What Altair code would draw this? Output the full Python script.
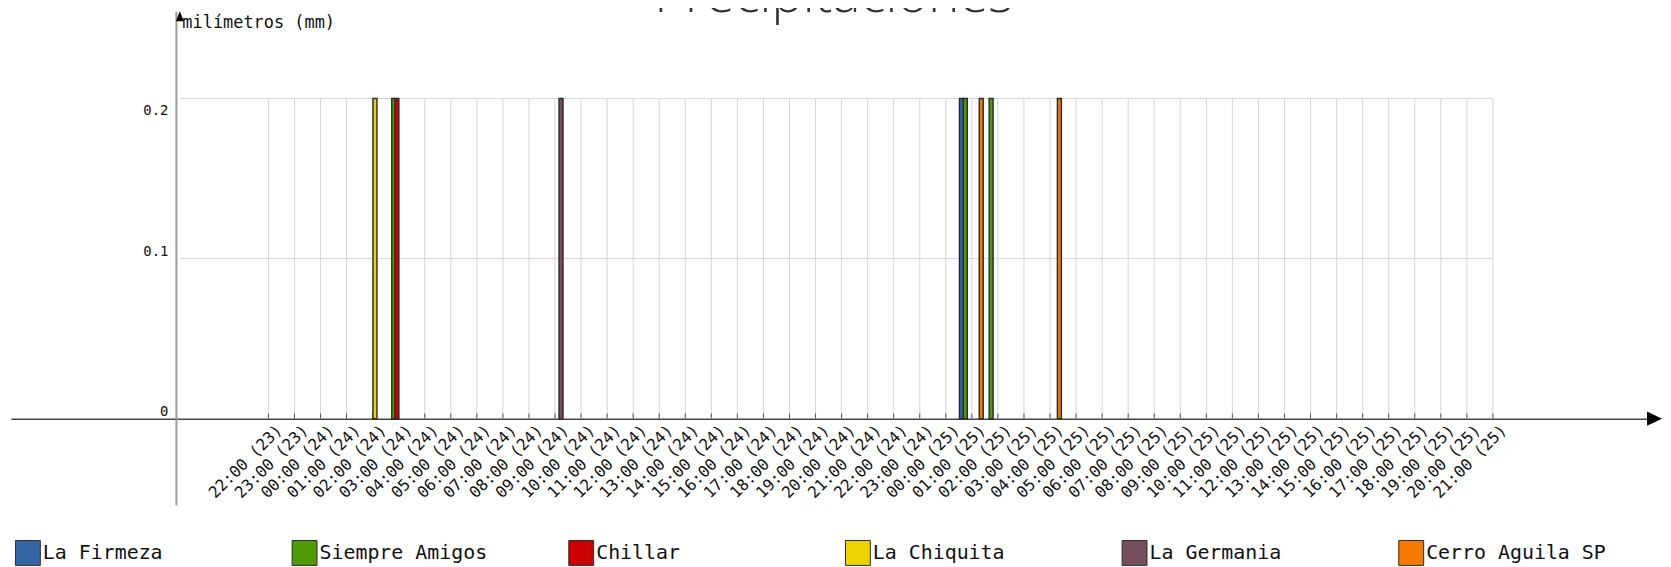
import json
import altair as alt
import pandas as pd

# ---------------- data ----------------
hour_labels = [
    "22:00 (23)", "23:00 (23)",
    "00:00 (24)", "01:00 (24)", "02:00 (24)", "03:00 (24)", "04:00 (24)", "05:00 (24)",
    "06:00 (24)", "07:00 (24)", "08:00 (24)", "09:00 (24)", "10:00 (24)", "11:00 (24)",
    "12:00 (24)", "13:00 (24)", "14:00 (24)", "15:00 (24)", "16:00 (24)", "17:00 (24)",
    "18:00 (24)", "19:00 (24)", "20:00 (24)", "21:00 (24)", "22:00 (24)", "23:00 (24)",
    "00:00 (25)", "01:00 (25)", "02:00 (25)", "03:00 (25)", "04:00 (25)", "05:00 (25)",
    "06:00 (25)", "07:00 (25)", "08:00 (25)", "09:00 (25)", "10:00 (25)", "11:00 (25)",
    "12:00 (25)", "13:00 (25)", "14:00 (25)", "15:00 (25)", "16:00 (25)", "17:00 (25)",
    "18:00 (25)", "19:00 (25)", "20:00 (25)", "21:00 (25)",
]
tick_hours = list(range(len(hour_labels)))  # hours after 22:00 (23)

stations = ["La Firmeza", "Siempre Amigos", "Chillar", "La Chiquita", "La Germania", "Cerro Aguila SP"]
station_colors = ["#3465a4", "#4e9a06", "#cc0000", "#edd400", "#75505b", "#f57900"]

# rain events (hours after 22:00 (23)) and amount in mm
bar_station = ["La Chiquita", "Siempre Amigos", "Chillar", "La Germania", "La Firmeza",
               "Siempre Amigos", "Cerro Aguila SP", "Siempre Amigos", "Cerro Aguila SP"]
bar_hour = [4.09, 4.81, 4.93, 11.23, 26.60, 26.75, 27.36, 27.74, 30.36]
bar_mm = [0.2, 0.2, 0.2, 0.2, 0.2, 0.2, 0.2, 0.2, 0.2]

y_ticks = [0, 0.1, 0.2]
y_grid = [0.1, 0.2]

# ---------------- layout constants ----------------
X_DOMAIN = [-9.69, 53.07]
Y_DOMAIN = [-0.0539, 0.2545]
Y_AXIS_AT = -3.40
FONT = "DejaVu Sans Mono"

xs = alt.Scale(domain=X_DOMAIN, nice=False, zero=False)
ys = alt.Scale(domain=Y_DOMAIN, nice=False, zero=False)

label_expr = json.dumps(hour_labels) + "[datum.value]"

X_AXIS = alt.Axis(
    values=tick_hours, labelExpr=label_expr, title="", orient="bottom",
    offset=-86.7, ticks=False, grid=False, domainColor="#444", domainWidth=1.5,
    labelAngle=-45, labelFont=FONT, labelFontSize=16, labelColor="#111",
    labelOverlap=False, labelFlush=False, labelPadding=3, labelOffset=5,
    labelBound=False)

Y_AXIS = alt.Axis(
    values=y_ticks, format=".1~f", title="milímetros (mm)", orient="left", offset=-165.7,
    ticks=False, grid=False, domainColor="#9a9a9a", domainWidth=2,
    labelFont=FONT, labelFontSize=14, labelColor="#111", labelPadding=8,
    labelBaseline={"condition": {"test": "datum.value > 0.15", "value": "top"}, "value": "bottom"},
    labelOffset={"condition": {"test": "datum.value > 0.15", "value": 5}, "value": 0},
    titleAngle=0, titleAlign="left", titleBaseline="middle", titleX=6, titleY=11,
    titleFont=FONT, titleFontSize=17, titleFontWeight="normal", titleColor="#111")

grid_df = pd.DataFrame({"k": tick_hours})
ygrid_df = pd.DataFrame({"v": y_grid})
bars_df = pd.DataFrame({"station": bar_station, "hour": bar_hour, "mm": bar_mm})
one = pd.DataFrame({"a": [0]})

vgrid = alt.Chart(grid_df).mark_rule(color="#d6d6d6", strokeWidth=1).encode(
    x=alt.X("k:Q", scale=xs, axis=X_AXIS),
    y=alt.Y(datum=0, scale=ys, axis=Y_AXIS),
    y2=alt.Y2(datum=0.2),
)

hgrid = alt.Chart(ygrid_df).mark_rule(color="#d6d6d6", strokeWidth=1).encode(
    y=alt.Y("v:Q", scale=ys, axis=Y_AXIS),
    x=alt.X(datum=Y_AXIS_AT, scale=xs, axis=X_AXIS),
    x2=alt.X2(datum=tick_hours[-1]),
)

xticks = alt.Chart(grid_df).mark_rule(color="#555", strokeWidth=1).encode(
    x=alt.X("k:Q", scale=xs, axis=X_AXIS),
    y=alt.Y(datum=0, scale=ys, axis=Y_AXIS),
    y2=alt.Y2(datum=0.0032),
)

bars = alt.Chart(bars_df).mark_bar(size=4, stroke="#2b2b2b", strokeWidth=1.4,
                                   orient="vertical").encode(
    x=alt.X("hour:Q", scale=xs, axis=X_AXIS),
    y=alt.Y("mm:Q", scale=ys, axis=Y_AXIS),
    y2=alt.Y2(datum=0),
    color=alt.Color("station:N", title=None,
                    scale=alt.Scale(domain=stations, range=station_colors),
                    legend=alt.Legend(orient="none", legendX=4, legendY=531, direction="horizontal",
                                      columns=6, gridAlign="all", symbolType="square",
                                      symbolSize=625, symbolStrokeWidth=1, symbolOpacity=1,
                                      labelFont=FONT, labelFontSize=20, labelColor="#111",
                                      labelOffset=2, columnPadding=67, padding=0,
                                      labelLimit=400)),
)

yarrow = alt.Chart(one).mark_point(shape="M0,-1L0.8,1L-0.8,1Z", filled=True, color="black",
                                   opacity=1, size=100).encode(
    x=alt.X(datum=Y_AXIS_AT, scale=xs, axis=X_AXIS),
    y=alt.value(5),
)
xarrow = alt.Chart(one).mark_point(shape="M1,0L-1,-0.95L-1,0.95Z", filled=True, color="black",
                                   opacity=1, size=225).encode(
    x=alt.value(1651.5),
    y=alt.Y(datum=0, scale=ys, axis=Y_AXIS),
)

chart = alt.layer(vgrid, hgrid, xticks, bars, yarrow, xarrow).properties(
    width=1653, height=496,
    padding={"left": 3, "top": 2, "right": 7, "bottom": 61},
    autosize=alt.AutoSizeParams(type="none"),
    background="white",
    title=alt.TitleParams(text="Precipitaciones", font="Open Sans", fontSize=53, fontWeight=300,
                          color="#333", anchor="middle", frame="group", baseline="alphabetic",
                          offset=0, dy=54),
).configure_view(strokeWidth=0)

chart.save("out.html", embed_options={"renderer": "svg", "actions": False})
